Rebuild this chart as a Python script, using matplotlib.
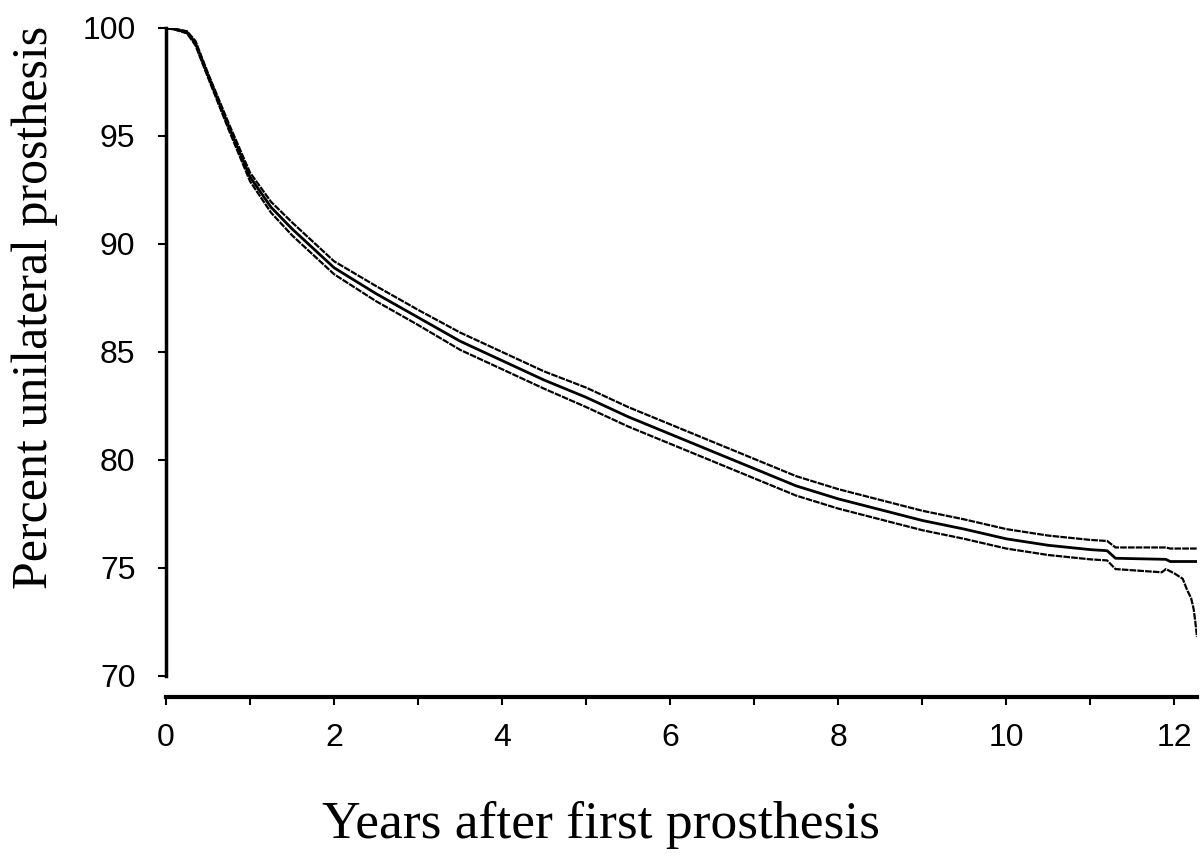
import matplotlib.pyplot as plt
import numpy as np

# survival estimate (years, percent)
years = [0, 0.1, 0.25, 0.35, 0.5, 0.75, 1.0, 1.25, 1.5, 1.75, 2.0, 2.5, 3.0, 3.5,
         4.0, 4.5, 5.0, 5.5, 6.0, 6.5, 7.0, 7.5, 8.0, 8.5, 9.0, 9.5, 10.0, 10.5,
         11.0, 11.2, 11.3, 11.9, 11.95, 12.27]
survival = [100, 99.95, 99.8, 99.3, 97.8, 95.4, 93.1, 91.7, 90.7, 89.8, 88.9, 87.7,
            86.6, 85.5, 84.6, 83.7, 82.9, 82.0, 81.2, 80.4, 79.6, 78.8, 78.2, 77.7,
            77.2, 76.8, 76.35, 76.05, 75.85, 75.8, 75.45, 75.4, 75.3, 75.3]
upper = [100, 99.97, 99.85, 99.4, 97.9, 95.55, 93.3, 91.95, 91.0, 90.1, 89.2, 88.05,
         86.95, 85.9, 85.0, 84.1, 83.35, 82.45, 81.65, 80.85, 80.05, 79.25, 78.65, 78.15,
         77.65, 77.25, 76.8, 76.5, 76.3, 76.25, 75.95, 75.95, 75.9, 75.9]

# lower band has its own tail at the end
years_lo = [0, 0.1, 0.25, 0.35, 0.5, 0.75, 1.0, 1.25, 1.5, 1.75, 2.0, 2.5, 3.0, 3.5,
            4.0, 4.5, 5.0, 5.5, 6.0, 6.5, 7.0, 7.5, 8.0, 8.5, 9.0, 9.5, 10.0, 10.5,
            11.0, 11.2, 11.3, 11.85, 11.9, 12.0, 12.1, 12.15, 12.2, 12.23, 12.25, 12.27]
lower = [100, 99.93, 99.75, 99.2, 97.7, 95.25, 92.9, 91.45, 90.4, 89.5, 88.6, 87.35,
         86.25, 85.1, 84.2, 83.3, 82.45, 81.55, 80.75, 79.95, 79.15, 78.35, 77.75, 77.25,
         76.75, 76.35, 75.9, 75.6, 75.4, 75.35, 74.95, 74.8, 74.95, 74.75, 74.5, 74.0,
         73.6, 73.1, 72.5, 71.8]

fig = plt.figure(figsize=(12.04, 8.56), dpi=100)
ax = fig.add_axes([0.1379, 0.2103, 0.8563, 0.7570])

ax.plot(years, survival, color='black', lw=2.0)
ax.plot(years, upper, color='black', lw=1.6, linestyle=(0, (3, 0.5)))
ax.plot(years_lo, lower, color='black', lw=1.6, linestyle=(0, (3, 0.5)))

ax.set_xlim(0, 12.27)
ax.set_ylim(70, 100)

# 轴线样式
ax.spines['right'].set_color('none')
ax.spines['top'].set_color('none')
ax.spines['left'].set_linewidth(2.5)
ax.spines['bottom'].set_linewidth(3)
ax.spines['bottom'].set_position(('outward', 15))

ax.set_yticks(np.arange(70, 101, 5))
ax.set_xticks(np.arange(0, 13, 1))
ax.set_xticklabels([str(v) if v % 2 == 0 else '' for v in range(13)])
ax.tick_params(axis='both', direction='out', length=6, width=1.5, color='black',
               labelsize=23)
ax.tick_params(axis='x', pad=13)
ax.tick_params(axis='y', pad=16)
for lab in ax.get_xticklabels() + ax.get_yticklabels():
    lab.set_family('Liberation Sans')

# 坐标轴名称
fig.text(601 / 1204, 1 - 825 / 856, 'Years after first prosthesis',
         family='Liberation Serif', fontsize=38.5, ha='center', va='center')
fig.text(35 / 1204, 1 - 307 / 856, 'Percent unilateral prosthesis',
         family='Liberation Serif', fontsize=36, rotation=90, ha='center', va='center')

fig.savefig('out.png', dpi=100)
